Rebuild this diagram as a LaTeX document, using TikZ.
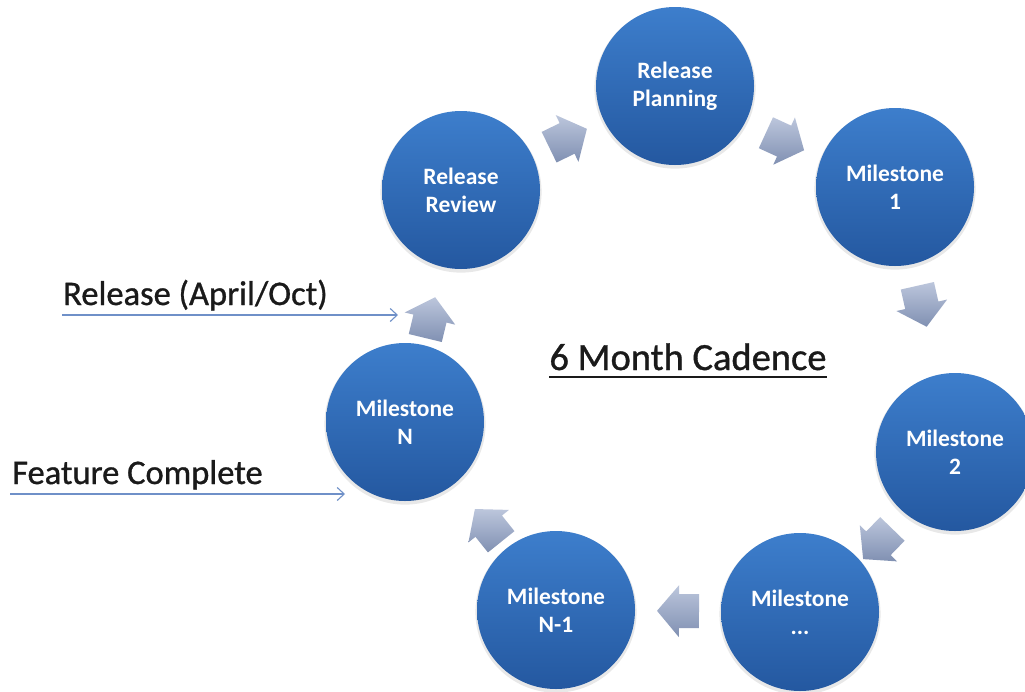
\documentclass[tikz,border=0pt]{standalone}
\usepackage{fontspec}
\setmainfont{Carlito}
\newfontfamily\heavyfont{Carlito}[FakeBold=0.9]
\usetikzlibrary{shadows,arrows.meta,calc}
\definecolor{circtop}{HTML}{3D7ECC}
\definecolor{circbot}{HTML}{2458A0}
\definecolor{arrtop}{HTML}{BCC6DC}
\definecolor{arrbot}{HTML}{8090B2}
\definecolor{linecol}{HTML}{6F90C8}
\definecolor{txtcol}{HTML}{1A1A1A}
\tikzset{
  milestone/.style={circle, minimum size=158pt, inner sep=0pt, draw=none,
    top color=circtop, bottom color=circbot, text=white, align=center,
    font=\bfseries\fontsize{23.5}{28}\selectfont,
    drop shadow={opacity=0.18, shadow xshift=0pt, shadow yshift=-2pt, shadow scale=1.02}},
  blockarrow/.pic={
    \shade[top color=arrtop, bottom color=arrbot]
      (-21,-17) -- (-1,-17) -- (-1,-26) -- (21,0) -- (-1,26) -- (-1,17) -- (-21,17) -- cycle;
  },
  sidetext/.style={font=\heavyfont\fontsize{34.5}{38}\selectfont, text=txtcol, inner sep=0pt, anchor=base west},
  pointer/.style={draw=linecol, line width=1.1pt, -{Straight Barb[length=7pt,width=13pt]}}
}
\begin{document}
\begin{tikzpicture}[x=1pt,y=-1pt]
\clip (0,0) rectangle (1025,691);
\fill[white] (0,0) rectangle (1025,691);

\node[milestone] (RP) at (675,86) {Release\\Planning};
\node[milestone] (RR) at (461,190) {Release\\Review};
\node[milestone] (M1) at (895,187) {Milestone\\1};
\node[milestone] (M2) at (955,452) {Milestone\\2};
\node[milestone] (MD) at (800,612) {Milestone\\...};
\node[milestone] (MN1) at (556,610) {Milestone\\N-1};
\node[milestone] (MN) at (405,422) {Milestone\\N};

\path let \p1=($(RP)-(RR)$), \n1={atan2(\y1,\x1)} in
  pic[rotate=\n1] at ($(RR)!0.5!(RP)$) {blockarrow};
\path let \p1=($(M1)-(RP)$), \n1={atan2(\y1,\x1)} in
  pic[rotate=\n1] at ($(RP)!0.5!(M1)+(0,5)$) {blockarrow};
\path let \p1=($(M2)-(M1)$), \n1={atan2(\y1,\x1)} in
  pic[rotate=\n1] at ($(M1)!0.45!(M2)$) {blockarrow};
\path let \p1=($(MD)-(M2)$), \n1={atan2(\y1,\x1)} in
  pic[rotate=\n1] at ($(M2)!0.55!(MD)+(8,4)$) {blockarrow};
\path let \p1=($(MN1)-(MD)$), \n1={atan2(\y1,\x1)} in
  pic[rotate=\n1] at ($(MD)!0.5!(MN1)$) {blockarrow};
\path let \p1=($(MN)-(MN1)$), \n1={atan2(\y1,\x1)} in
  pic[rotate=\n1] at ($(MN1)!0.45!(MN)$) {blockarrow};
\path let \p1=($(RR)-(MN)$), \n1={atan2(\y1,\x1)} in
  pic[rotate=\n1] at ($(MN)!0.45!(RR)$) {blockarrow};

\node[font=\heavyfont\fontsize{38.5}{42}\selectfont, text=txtcol, inner sep=0pt, anchor=base] (title) at (688,370) {6 Month Cadence};
\draw[txtcol, line width=2.6pt] ([yshift=-7pt]title.base west) -- ([yshift=-7pt]title.base east);

\node[sidetext] (reltxt) at (63,305) {Release (April/Oct)};
\coordinate (relS) at (62,315);
\coordinate (relE) at (398,315);
\draw[pointer] (relS) -- (relE);

\node[sidetext] (featxt) at (12,484) {Feature Complete};
\coordinate (feaS) at (10,494);
\coordinate (feaE) at (345,494);
\draw[pointer] (feaS) -- (feaE);
\end{tikzpicture}
\end{document}
